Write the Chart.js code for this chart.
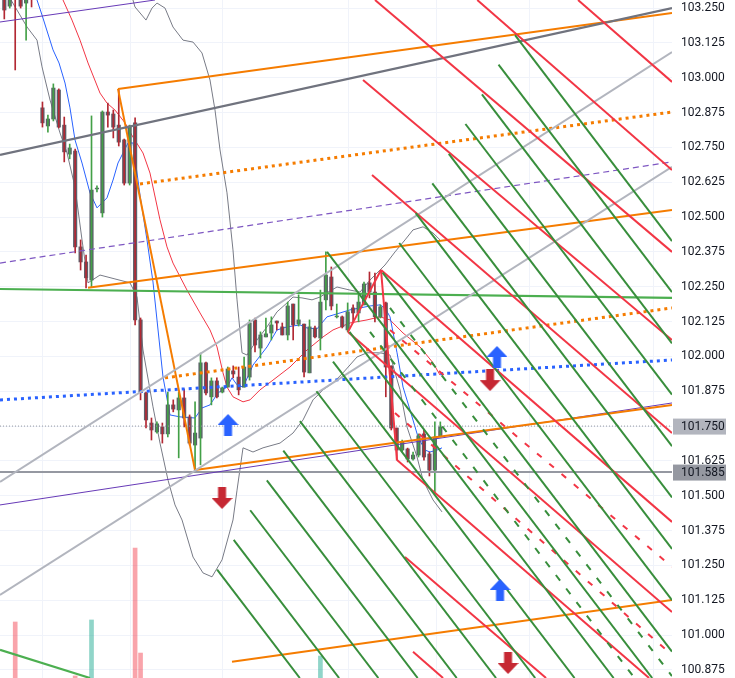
<!DOCTYPE html>
<html>
<head>
<meta charset="utf-8">
<script src="https://cdn.jsdelivr.net/npm/chart.js@4.4.1/dist/chart.umd.min.js"></script>
<style>
  html, body { margin: 0; padding: 0; background: #fff; overflow: hidden; }
  canvas { display: block; }
</style>
</head>
<body>
<canvas id="c" width="735" height="678"></canvas>
<script>
// candles, one per bar index 0..80
const opens = [103.297,103.257,103.351,103.315,103.268,103.333,103.387,102.892,102.827,102.852,
  102.956,102.830,102.726,102.737,102.393,102.339,102.274,102.601,102.515,102.877,
  102.870,102.830,102.777,102.622,102.838,102.131,101.869,101.761,101.729,101.747,
  101.722,101.826,101.808,101.851,101.783,101.682,101.707,101.977,101.855,101.912,
  101.872,101.890,101.948,101.926,101.890,101.926,102.131,102.030,102.070,102.084,
  102.127,102.106,102.077,102.188,102.116,102.116,101.941,102.102,102.066,102.203,
  102.285,102.142,102.142,102.095,102.174,102.156,102.185,102.264,102.231,102.142,
  102.192,101.966,101.743,101.664,101.668,101.632,101.646,101.722,101.650,101.592,101.711];
const highs = [103.308,103.315,103.369,103.333,103.351,103.351,103.405,102.913,102.866,102.978,
  102.960,102.859,102.762,102.744,102.418,102.364,102.863,102.612,102.881,102.909,
  102.884,102.956,102.780,102.830,102.856,102.138,101.872,101.779,101.765,101.761,
  101.872,101.844,101.872,101.883,101.790,101.837,102.012,101.980,101.923,101.923,
  101.890,101.962,101.966,101.962,101.998,102.131,102.138,102.088,102.138,102.142,
  102.127,102.120,102.195,102.188,102.221,102.116,102.131,102.109,102.238,102.375,
  102.321,102.188,102.145,102.192,102.185,102.221,102.267,102.303,102.299,102.185,
  102.195,101.966,101.743,101.700,101.671,101.657,101.722,101.736,101.657,101.765,101.765];
const lows = [103.211,103.250,103.028,103.250,103.135,103.254,103.308,102.823,102.805,102.845,
  102.820,102.698,102.709,102.371,102.310,102.246,102.249,102.590,102.500,102.823,
  102.784,102.755,102.615,102.615,102.113,101.844,101.743,101.700,101.725,101.689,
  101.711,101.801,101.636,101.747,101.682,101.596,101.611,101.862,101.826,101.851,
  101.869,101.890,101.923,101.862,101.890,101.915,102.016,101.994,102.070,102.059,
  102.095,102.077,102.059,102.059,102.109,101.926,101.941,102.066,102.023,102.167,
  102.167,102.138,102.102,102.088,102.120,102.124,102.185,102.210,102.124,102.138,
  101.855,101.736,101.628,101.657,101.621,101.628,101.639,101.628,101.571,101.506,101.711];
const closes = [103.243,103.290,103.297,103.257,103.315,103.290,103.333,102.838,102.852,102.963,
  102.823,102.734,102.748,102.393,102.339,102.282,102.597,102.604,102.877,102.866,
  102.823,102.769,102.622,102.827,102.131,101.872,101.772,101.736,101.758,101.722,
  101.826,101.811,101.851,101.779,101.689,101.725,101.977,101.869,101.912,101.855,
  101.887,101.955,101.937,101.880,101.962,102.120,102.041,102.077,102.081,102.113,
  102.120,102.077,102.181,102.113,102.131,101.944,102.106,102.070,102.195,102.292,
  102.181,102.145,102.106,102.160,102.156,102.195,102.260,102.231,102.142,102.178,
  101.962,101.743,101.664,101.693,101.632,101.646,101.715,101.639,101.592,101.711,101.747];

const volBars = [2, 13, 16, 24, 25, 58];
const volValues = [413, 15, 428, 959, 184, 162];

const priceTicks = [100.875,101.000,101.125,101.250,101.375,101.500,101.625,101.750,101.875,102.000,
  102.125,102.250,102.375,102.500,102.625,102.750,102.875,103.000,103.125,103.250];
const timeGrid = [7.05, 23.19, 40.08, 63.12, 79.34, 96.28, 119.2];

const lastPrice = 101.750;
const markedPrice = 101.585;

// indicator lines [bar, price]
const maBlue = [[6.00,103.279],[6.92,103.225],[8.94,103.100],[10.04,103.053],[11.14,102.981],[12.05,102.892],
  [12.97,102.777],[14.26,102.694],[15.72,102.587],[17.01,102.533],[18.84,102.569],[19.95,102.633],[20.86,102.694],
  [22.70,102.766],[23.61,102.766],[24.90,102.579],[26.18,102.418],[27.28,102.267],[29.12,101.926],[30.40,101.790],
  [32.24,101.783],[34.99,101.779],[36.27,101.815],[37.74,101.826],[39.21,101.869],[40.86,101.890],[41.78,101.923],
  [42.70,101.898],[43.80,101.890],[45.08,101.944],[45.63,101.969],[48.20,102.034],[50.04,102.095],[51.87,102.106],
  [54.26,102.113],[55.54,102.102],[57.38,102.099],[59.21,102.142],[61.60,102.156],[63.43,102.167],[65.27,102.174],
  [67.10,102.181],[68.94,102.185],[69.85,102.174],[70.77,102.142],[72.06,102.013],[73.16,101.890],[74.44,101.808],
  [75.91,101.711],[77.19,101.664],[78.11,101.657],[79.40,101.664],[80.31,101.672]];
const maRed = [[10.77,103.279],[12.42,103.207],[13.89,103.135],[15.36,103.053],[17.56,102.945],[18.84,102.909],
  [20.31,102.884],[22.15,102.838],[23.61,102.787],[25.45,102.730],[26.73,102.658],[28.57,102.490],[29.85,102.393],
  [30.95,102.335],[33.52,102.238],[35.91,102.156],[37.74,102.095],[39.03,102.034],[40.13,101.941],[40.86,101.890],
  [41.96,101.855],[43.80,101.837],[45.08,101.844],[46.92,101.880],[49.30,101.915],[52.42,101.962],[55.54,102.023],
  [58.48,102.070],[60.31,102.095],[63.43,102.120],[66.55,102.131],[68.94,102.142],[70.77,102.131],[73.16,102.084],
  [76.28,102.034],[78.66,101.977],[79.95,101.933]];
const bandUpper = [[23.07,103.315],[23.98,103.254],[26.00,103.207],[27.10,103.250],[28.02,103.268],[29.49,103.250],
  [30.95,103.182],[32.79,103.135],[34.63,103.128],[36.27,103.089],[37.74,102.992],[38.66,102.884],[39.58,102.741],
  [40.86,102.587],[41.96,102.382],[42.70,102.203],[43.62,102.013],[44.53,102.005],[46.37,102.059],[48.20,102.106],
  [50.04,102.160],[51.87,102.192],[52.97,102.213],[54.62,102.210],[56.46,102.203],[57.93,102.213],[59.40,102.231],
  [61.05,102.249],[63.43,102.238],[65.27,102.231],[67.10,102.274],[69.85,102.328],[71.69,102.375],[73.52,102.418],
  [74.99,102.454],[76.83,102.465],[78.66,102.443],[79.95,102.418]];
const bandLower = [[0.13,103.315],[2.33,103.243],[4.17,103.182],[6.00,103.135],[6.92,103.039],[8.39,102.920],
  [10.22,102.802],[11.51,102.730],[12.97,102.608],[14.26,102.418],[15.36,102.264],[17.56,102.292],[20.31,102.278],
  [23.07,102.264],[24.35,102.213],[25.45,102.023],[27.28,101.819],[28.57,101.689],[30.04,101.556],[31.32,101.467],
  [32.61,101.413],[34.63,101.280],[36.46,101.223],[38.11,101.209],[39.95,101.270],[41.96,101.413],[42.70,101.520],
  [43.80,101.672],[45.63,101.657],[47.47,101.672],[50.59,101.689],[52.97,101.725],[54.81,101.772],[56.64,101.844],
  [58.48,101.880],[60.31,101.905],[62.15,101.941],[64.72,101.998],[66.55,102.013],[68.94,102.013],[70.77,102.005],
  [72.61,101.880],[73.89,101.747],[75.73,101.639],[76.83,101.556],[78.66,101.485],[80.31,101.442]];

// drawn lines [bar1, price1, bar2, price2]
const darkGreyLines = [[-0.79,102.723,122.51,103.250]];
const lightGreyLines = [[-0.79,101.550,122.51,103.092],[-0.79,101.144,122.51,102.680]];
const orangeLines = [[20.86,102.960,122.51,103.232],[20.86,102.960,34.99,101.592],[15.36,102.246,122.51,102.525],
  [34.99,101.592,122.51,101.826],[41.78,100.904,122.51,101.126]];
const orangeDotted = [[24.90,102.619,122.51,102.877],[29.49,101.923,122.51,102.174]];
const blueDotted = [[-0.79,101.844,122.51,101.987]];
const purpleDashed = [[-0.79,102.335,122.51,102.698]];
const purpleLines = [[-0.79,103.200,27.65,103.279],[-0.79,101.467,122.51,101.833]];
const greenFlat = [[-0.79,102.242,122.51,102.210],[-0.79,100.947,15.72,100.846]];
const redLines = [[68.02,103.279,122.51,102.375],[86.78,103.279,122.51,102.669],[105.27,103.279,122.51,102.985],
  [65.82,102.992,122.51,102.059],[67.47,102.651,122.51,101.725],[69.12,102.310,122.51,101.406],
  [63.06,102.088,122.51,101.083],[72.06,101.628,118.30,100.846],[73.52,101.280,99.40,100.846],
  [74.99,100.940,80.50,100.846],[63.06,102.088,69.12,102.310],[69.12,102.310,72.06,101.628]];
const redDashed = [[70.77,102.095,122.51,101.245],[71.69,101.797,122.51,100.929]];
const greenLines = [[93.71,103.153,122.51,102.414],[90.68,103.047,122.51,102.231],[87.64,102.940,122.51,102.047],
  [84.61,102.834,122.51,101.863],[81.56,102.727,122.51,101.678],[78.53,102.621,122.51,101.494],
  [75.49,102.514,122.51,101.309],[72.46,102.407,122.51,101.125],[69.41,102.301,122.51,100.941],
  [59.21,102.375,118.88,100.846],[63.34,102.088,111.80,100.846],[60.31,101.981,104.63,100.846],
  [57.27,101.875,97.41,100.846],[54.24,101.768,90.22,100.846],[51.19,101.662,83.01,100.846],
  [48.17,101.555,75.84,100.846],[45.12,101.448,68.63,100.846],[42.09,101.342,61.43,100.846],
  [39.05,101.235,54.22,100.846]];
const greenDashed = [[67.10,102.088,115.64,100.846],[70.77,102.174,122.51,100.853]];

const upArrows = [[41.05,101.754],[90.40,101.998],[90.96,101.162]];
const downArrows = [[89.12,101.915],[39.95,101.492],[92.42,100.900]];

function arrowImg(color, up) {
  const c = document.createElement('canvas');
  c.width = 21; c.height = 22;
  const g = c.getContext('2d');
  g.fillStyle = color;
  g.beginPath();
  if (up) {
    g.moveTo(10.5, 0); g.lineTo(21, 11); g.lineTo(14.5, 11); g.lineTo(14.5, 22);
    g.lineTo(6.5, 22); g.lineTo(6.5, 11); g.lineTo(0, 11);
  } else {
    g.moveTo(6.5, 0); g.lineTo(14.5, 0); g.lineTo(14.5, 11); g.lineTo(21, 11);
    g.lineTo(10.5, 22); g.lineTo(0, 11); g.lineTo(6.5, 11);
  }
  g.closePath();
  g.fill();
  return c;
}

function segs(list, color, width, dash) {
  return list.map(s => ({
    type: 'line',
    data: [{x: s[0], y: s[1]}, {x: s[2], y: s[3]}],
    borderColor: color, borderWidth: width, borderDash: dash || [],
    pointRadius: 0, fill: false, order: 1
  }));
}

function curve(list, color) {
  return {
    type: 'line',
    data: list.map(p => ({x: p[0], y: p[1]})),
    borderColor: color, borderWidth: 1, pointRadius: 0, fill: false, tension: 0, order: 4
  };
}

const wickColors = closes.map((c, i) => c >= opens[i] ? '#43a047' : '#b22833');
const volColors = volBars.map(b => closes[b] >= opens[b] ? 'rgba(34,171,148,0.5)' : 'rgba(242,54,69,0.45)');

const datasets = [
  {
    type: 'line', data: upArrows.map(p => ({x: p[0], y: p[1]})), showLine: false,
    pointStyle: arrowImg('#2962ff', true), pointRadius: 10, order: 0
  },
  {
    type: 'line', data: downArrows.map(p => ({x: p[0], y: p[1]})), showLine: false,
    pointStyle: arrowImg('#c62833', false), pointRadius: 10, order: 0
  },
  ...segs(greenLines, '#388e3c', 2),
  ...segs(greenDashed, '#388e3c', 2, [7, 10]),
  ...segs(redLines, '#f23645', 2),
  ...segs(redDashed, '#f23645', 2, [6, 10]),
  ...segs(darkGreyLines, '#70737e', 2.2),
  ...segs(lightGreyLines, '#b2b5be', 2),
  ...segs(orangeLines, '#f57c00', 2),
  ...segs(orangeDotted, '#f57c00', 3, [3, 4]),
  ...segs(blueDotted, '#2962ff', 3, [3, 4]),
  ...segs(purpleDashed, '#7e57c2', 1.2, [6, 4]),
  ...segs(purpleLines, '#673ab7', 1),
  ...segs(greenFlat, '#4caf50', 2.2),
  ...segs([[-0.79, markedPrice, 122.51, markedPrice]], '#9598a1', 2),
  ...segs([[-0.79, lastPrice, 122.51, lastPrice]], '#9598a1', 1, [1, 2]),
  {
    type: 'bar', data: opens.map((o, i) => ({x: i, y: [lows[i], highs[i]]})),
    backgroundColor: wickColors, barThickness: 1, grouped: false, order: 2
  },
  {
    type: 'bar', data: opens.map((o, i) => ({x: i, y: [o, closes[i]]})),
    backgroundColor: '#5d606b', barThickness: 3.5, grouped: false, order: 3
  },
  curve(maBlue, '#2962ff'),
  curve(maRed, '#f23645'),
  curve(bandUpper, '#787b86'),
  curve(bandLower, '#787b86'),
  {
    type: 'bar', yAxisID: 'y2', data: volBars.map((b, k) => ({x: b, y: volValues[k]})),
    backgroundColor: volColors, barThickness: 4, grouped: false, order: 6
  }
];

const priceLabels = {
  id: 'priceLabels',
  afterDraw(chart) {
    const ctx = chart.ctx;
    const ys = chart.scales.y;
    const left = chart.chartArea.right + 1;
    [[lastPrice, '#b2b5be'], [markedPrice, '#9598a1']].forEach(([v, bg]) => {
      const y = ys.getPixelForValue(v);
      ctx.save();
      ctx.fillStyle = bg;
      ctx.fillRect(left, y - 7.5, 53, 16);
      ctx.fillStyle = '#131722';
      ctx.font = '12px Roboto';
      ctx.textBaseline = 'middle';
      ctx.fillText(v.toFixed(3), left + 8, y + 1);
      ctx.restore();
    });
  }
};

new Chart(document.getElementById('c'), {
  type: 'line',
  data: { datasets },
  options: {
    responsive: false,
    animation: false,
    events: [],
    layout: { padding: 0, autoPadding: false },
    plugins: { legend: { display: false }, tooltip: { enabled: false } },
    scales: {
      x: {
        type: 'linear', min: -0.79, max: 122.51, offset: false,
        afterBuildTicks: s => { s.ticks = timeGrid.map(v => ({value: v})); },
        ticks: { display: false },
        grid: { color: '#f0f3fa', drawTicks: false, offset: false },
        border: { display: false },
        afterFit: s => { s.height = 0; s.paddingLeft = 0; s.paddingRight = 0; }
      },
      y: {
        type: 'linear', position: 'right', min: 100.846, max: 103.279,
        afterBuildTicks: s => { s.ticks = priceTicks.map(v => ({value: v})); },
        ticks: {
          callback: v => Number(v).toFixed(3), autoSkip: false,
          color: '#131722', font: { family: 'Roboto', size: 12 }, padding: 9
        },
        grid: { color: '#f0f3fa', drawTicks: false },
        border: { display: false },
        afterFit: s => { s.width = 63; s.paddingTop = 0; s.paddingBottom = 0; }
      },
      y2: { type: 'linear', display: false, min: 0, max: 5000 }
    }
  },
  plugins: [priceLabels]
});
</script>
</body>
</html>
